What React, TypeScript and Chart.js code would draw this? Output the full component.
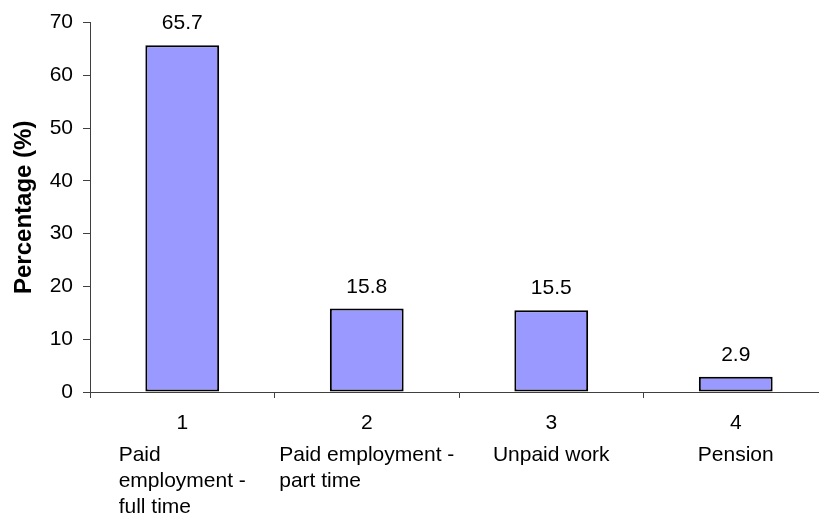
import React, { useEffect, useRef } from "react";
import { Chart, registerables } from "chart.js";

Chart.register(...registerables);

// Share of respondents by main activity
const categoryNumbers = ["1", "2", "3", "4"];
const categoryNames = [
  ["Paid", "employment -", "full time"],
  ["Paid employment -", "part time"],
  ["Unpaid work"],
  ["Pension"],
];
const shares = [65.7, 15.8, 15.5, 2.9];
const yTicks = [0, 10, 20, 30, 40, 50, 60, 70];

const FONT = "'Liberation Sans', Arial, Helvetica, sans-serif";
const AXIS = "#404040";

// Value printed above each bar
const valueLabels = {
  id: "valueLabels",
  afterDatasetsDraw(chart: any) {
    const ctx = chart.ctx;
    const meta = chart.getDatasetMeta(0);
    ctx.save();
    ctx.font = `21px ${FONT}`;
    ctx.fillStyle = "#000";
    ctx.textAlign = "center";
    ctx.textBaseline = "alphabetic";
    meta.data.forEach((bar: any, i: number) => {
      ctx.fillText(shares[i].toFixed(1), bar.x, bar.y - 16);
    });
    ctx.restore();
  },
};

// Category number plus wrapped, left-aligned name under each category
const categoryLabels = {
  id: "categoryLabels",
  afterDraw(chart: any) {
    const ctx = chart.ctx;
    const xScale = chart.scales.x;
    const bottom = chart.chartArea.bottom;
    ctx.save();
    ctx.font = `21px ${FONT}`;
    ctx.fillStyle = "#000";
    ctx.textBaseline = "alphabetic";
    categoryNumbers.forEach((num, i) => {
      const cx = xScale.getPixelForValue(i);
      ctx.textAlign = "center";
      ctx.fillText(num, cx, bottom + 37);
      const lines = categoryNames[i];
      const w = Math.max(...lines.map((l) => ctx.measureText(l).width));
      ctx.textAlign = "left";
      lines.forEach((line, j) => {
        ctx.fillText(line, cx - w / 2, bottom + 69 + j * 26);
      });
    });
    ctx.restore();
  },
};

export default function App() {
  const canvasRef = useRef<HTMLCanvasElement | null>(null);

  useEffect(() => {
    if (!canvasRef.current) return;
    Chart.defaults.font.family = FONT;
    const chart = new Chart(canvasRef.current, {
      type: "bar",
      data: {
        labels: categoryNumbers,
        datasets: [
          {
            data: shares,
            backgroundColor: "#9999FF",
            borderColor: "#000000",
            borderWidth: 2,
            borderSkipped: false,
            categoryPercentage: 1,
            barPercentage: 0.4,
          },
        ],
      },
      options: {
        responsive: false,
        animation: false,
        devicePixelRatio: 1,
        layout: { padding: { top: 22, right: 2, left: 0, bottom: 0 } },
        plugins: {
          legend: { display: false },
          tooltip: { enabled: false },
        },
        scales: {
          x: {
            type: "category",
            grid: {
              display: true,
              drawOnChartArea: false,
              drawTicks: true,
              tickLength: 6,
              offset: true,
              color: AXIS,
            },
            border: { display: true, color: AXIS, width: 1 },
            ticks: { display: false },
            afterFit(scale: any) {
              scale.height = 127;
            },
          },
          y: {
            min: 0,
            max: 70,
            afterBuildTicks(scale: any) {
              scale.ticks = yTicks.map((v) => ({ value: v }));
            },
            grid: {
              drawOnChartArea: false,
              drawTicks: true,
              tickLength: 7,
              color: AXIS,
            },
            border: { display: true, color: AXIS, width: 1 },
            ticks: {
              color: "#000",
              padding: 10,
              font: { size: 21, family: FONT },
            },
            title: {
              display: true,
              text: "Percentage (%)",
              color: "#000",
              padding: { top: 10, bottom: 0 },
              font: { size: 24, weight: "bold", family: FONT },
            },
            afterFit(scale: any) {
              scale.width = 90;
            },
          },
        },
      },
      plugins: [valueLabels, categoryLabels],
    });
    return () => chart.destroy();
  }, []);

  return (
    <div
      style={{
        position: "fixed",
        left: 0,
        top: 0,
        width: 819,
        height: 519,
        overflow: "hidden",
        background: "#fff",
      }}
    >
      <canvas
        ref={canvasRef}
        width={830}
        height={519}
        style={{ display: "block", width: 830, height: 519 }}
      />
    </div>
  );
}
